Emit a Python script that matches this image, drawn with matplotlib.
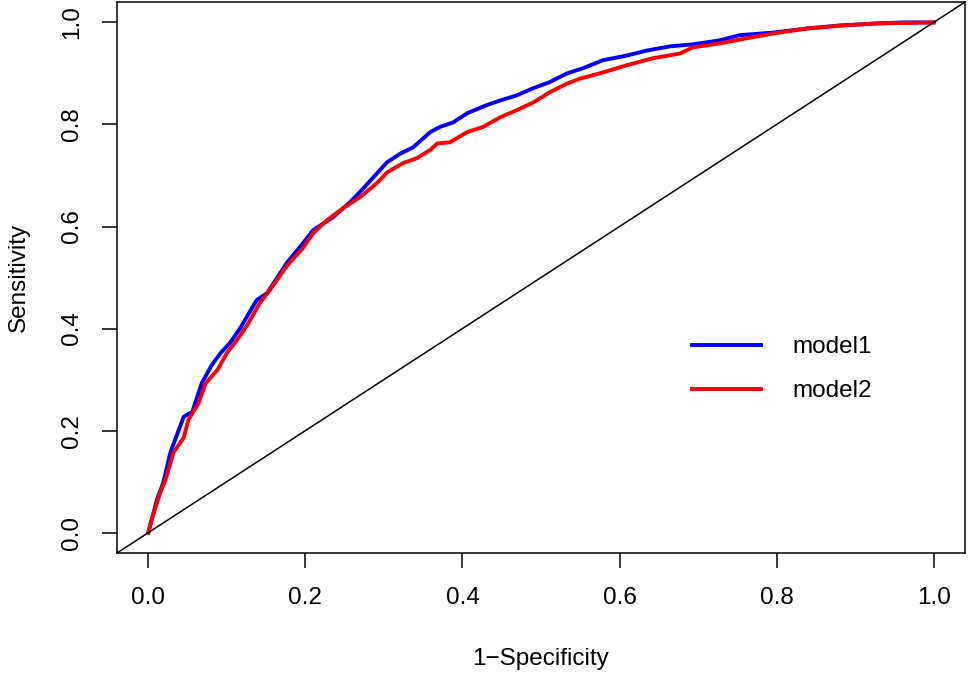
import matplotlib
matplotlib.use("Agg")
import matplotlib.pyplot as plt

# ROC points (1-specificity, sensitivity)
model1_fpr = [0.0, 0.011, 0.019, 0.028, 0.045, 0.056, 0.068, 0.081, 0.092, 0.104,
              0.117, 0.138, 0.151, 0.177, 0.193, 0.210, 0.235, 0.257, 0.274, 0.291,
              0.304, 0.321, 0.337, 0.359, 0.371, 0.388, 0.406, 0.431, 0.448, 0.469,
              0.490, 0.511, 0.533, 0.553, 0.579, 0.609, 0.635, 0.664, 0.693, 0.728,
              0.753, 0.795, 0.838, 0.880, 0.927, 0.961, 1.0]
model1_tpr = [0.0, 0.065, 0.098, 0.157, 0.227, 0.237, 0.293, 0.329, 0.352, 0.372,
              0.401, 0.456, 0.469, 0.530, 0.560, 0.593, 0.618, 0.648, 0.675, 0.704,
              0.726, 0.743, 0.755, 0.785, 0.795, 0.804, 0.822, 0.838, 0.847, 0.857,
              0.871, 0.883, 0.900, 0.910, 0.926, 0.935, 0.945, 0.953, 0.957, 0.965,
              0.975, 0.980, 0.988, 0.994, 0.998, 1.0, 1.0]

model2_fpr = [0.0, 0.003, 0.015, 0.022, 0.032, 0.045, 0.051, 0.064, 0.073, 0.088,
              0.100, 0.113, 0.126, 0.142, 0.155, 0.177, 0.197, 0.210, 0.228, 0.248,
              0.270, 0.291, 0.304, 0.324, 0.342, 0.359, 0.368, 0.384, 0.406, 0.426,
              0.448, 0.469, 0.490, 0.511, 0.533, 0.550, 0.579, 0.609, 0.643, 0.677,
              0.693, 0.728, 0.762, 0.795, 0.838, 0.884, 0.927, 1.0]
model2_tpr = [0.0, 0.020, 0.078, 0.104, 0.157, 0.186, 0.221, 0.254, 0.293, 0.319,
              0.352, 0.378, 0.407, 0.450, 0.476, 0.524, 0.558, 0.587, 0.613, 0.636,
              0.658, 0.685, 0.706, 0.724, 0.734, 0.750, 0.763, 0.765, 0.785, 0.795,
              0.814, 0.828, 0.843, 0.863, 0.880, 0.890, 0.902, 0.916, 0.930, 0.939,
              0.951, 0.959, 0.969, 0.978, 0.988, 0.994, 0.998, 1.0]

ticks = [0.0, 0.2, 0.4, 0.6, 0.8, 1.0]
tick_labels = ["0.0", "0.2", "0.4", "0.6", "0.8", "1.0"]

plt.rcParams["font.family"] = ["Liberation Sans", "DejaVu Sans"]
FS = 17.5

fig = plt.figure(figsize=(9.69, 6.75), dpi=100)
ax = fig.add_axes([0.1207, 0.1807, 0.8752, 0.8163])

ax.plot(model1_fpr, model1_tpr, color="#0000FF", linewidth=2.8, label="model1")
ax.plot(model2_fpr, model2_tpr, color="#FF0000", linewidth=2.8, label="model2")
ax.axline((0, 0), (1, 1), color="black", linewidth=1.1)

ax.set_xlim(-0.04, 1.04)
ax.set_ylim(-0.04, 1.04)
ax.set_xticks(ticks)
ax.set_xticklabels(tick_labels)
ax.set_yticks(ticks)
ax.set_yticklabels(tick_labels, rotation=90, va="center")
ax.tick_params(direction="out", length=10.5, width=1.1, labelsize=FS, pad=14)

for s in ax.spines.values():
    s.set_linewidth(1.1)

ax.set_xlabel("1\u2212Specificity", fontsize=FS, labelpad=28)
ax.set_ylabel("Sensitivity", fontsize=FS, labelpad=22)

ax.legend(loc="upper left", bbox_to_anchor=(0.678, 0.393), frameon=False,
          fontsize=FS, handlelength=2.85, handletextpad=1.3, labelspacing=0.9,
          borderpad=0, borderaxespad=0)

fig.savefig("out.png", dpi=100)
